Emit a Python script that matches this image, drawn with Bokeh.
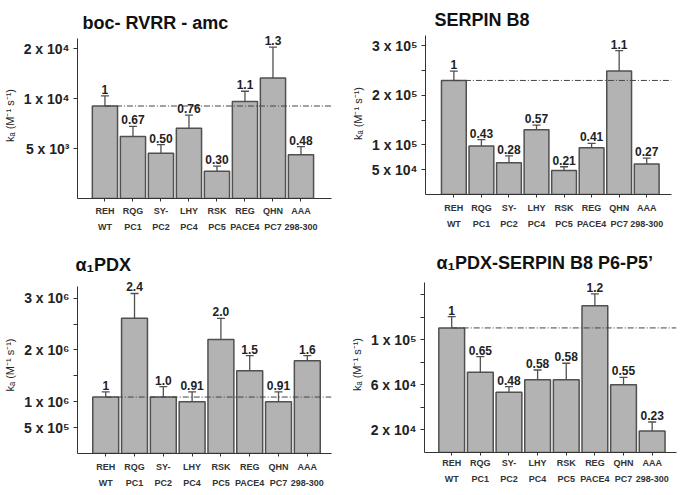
from bokeh.plotting import figure
from bokeh.layouts import column, row
from bokeh.models import (FixedTicker, LinearAxis, Title, ColumnDataSource, Range1d,
                          LabelSet, BasicTickFormatter)
from bokeh.core.properties import value
from bokeh.embed import file_html
from bokeh.resources import INLINE

# ---------------- data ----------------
mutants = ["REH", "RQG", "SY-", "LHY", "RSK", "REG", "QHN", "AAA"]
enzymes = ["WT", "PC1", "PC2", "PC4", "PC5", "PACE4", "PC7", "298-300"]

rvrr_ka = [9010, 5900, 4680, 6620, 3650, 9610, 13280, 4580]
rvrr_sd = [1350, 890, 590, 1320, 270, 1450, 7080, 550]
rvrr_ratio = ["1", "0.67", "0.50", "0.76", "0.30", "1.1", "1.3", "0.48"]
rvrr_ticks = [5000, 10000, 20000]
rvrr_labels = ["5 x 10\u00b3", "1 x 10\u2074", "2 x 10\u2074"]

b8_ka = [230000, 97800, 64000, 130700, 48500, 94300, 249000, 61400]
b8_sd = [19000, 12700, 14000, 9300, 7500, 8700, 41000, 12100]
b8_ratio = ["1", "0.43", "0.28", "0.57", "0.21", "0.41", "1.1", "0.27"]
b8_ticks = [50000, 100000, 150000, 200000, 250000, 300000]
b8_labels = ["5 x 10\u2074", "1 x 10\u2075", "", "2 x 10\u2075", "", "3 x 10\u2075"]

pdx_ka = [1090000, 2610000, 1090000, 1000000, 2200000, 1600000, 1000000, 1790000]
pdx_sd = [100000, 480000, 200000, 190000, 410000, 290000, 190000, 100000]
pdx_ratio = ["1", "2.4", "1.0", "0.91", "2.0", "1.5", "0.91", "1.6"]
pdx_ticks = [500000, 1000000, 1500000, 2000000, 2500000, 3000000]
pdx_labels = ["5 x 10\u2075", "1 x 10\u2076", "", "2 x 10\u2076", "", "3 x 10\u2076"]

chim_ka = [110700, 71300, 53500, 64700, 64700, 130500, 60300, 19100]
chim_sd = [10000, 13900, 5000, 8600, 14600, 10400, 6500, 8000]
chim_ratio = ["1", "0.65", "0.48", "0.58", "0.58", "1.2", "0.55", "0.23"]
chim_ticks = [20000, 40000, 60000, 80000, 100000, 120000, 140000]
chim_labels = ["2 x 10\u2074", "", "6 x 10\u2074", "", "1 x 10\u2075", "", ""]

FONT = "Liberation Sans"
BAR_FILL = "#b3b3b3"
BAR_LINE = "#505050"
AXIS_COL = "#333333"
TXT = "#222222"


def panel(title, ka, sd, ratio, ticks, labels, xr, yr, ybounds, log, fw, fh,
          mbl, mbr, mbt, mbb, title_off, title_standoff, xstand):
    kw = dict(y_axis_type="log") if log else {}
    p = figure(frame_width=fw, frame_height=fh, x_range=Range1d(*xr),
               y_range=Range1d(*yr), output_backend="svg", toolbar_location=None,
               min_border_left=mbl, min_border_right=mbr,
               min_border_top=mbt, min_border_bottom=mbb, **kw)
    p.outline_line_color = None
    p.xgrid.visible = False
    p.ygrid.visible = False

    p.title = Title(text=title, text_font=FONT, text_font_size="18px",
                    text_font_style="bold", text_color="#111111", align="left",
                    offset=title_off, standoff=title_standoff)

    n = len(ka)
    xs = list(range(n))
    tops = [k + s for k, s in zip(ka, sd)]
    src = ColumnDataSource(dict(x=xs, ka=ka, top=tops, ratio=ratio,
                                bottom=[yr[0]] * n))
    p.vbar(x="x", top="ka", bottom="bottom", width=0.9, source=src,
           fill_color=BAR_FILL, line_color=BAR_LINE, line_width=1.5)
    p.segment(x0="x", y0="ka", x1="x", y1="top", source=src,
              line_color=BAR_LINE, line_width=1.3)
    p.scatter(x="x", y="top", marker="dash", size=8, source=src,
              line_color=BAR_LINE, line_width=1.3)
    # dash-dot reference line at the WT level
    p.line(x=[0, xr[1]], y=[ka[0], ka[0]], line_color="#444444",
           line_width=1, line_dash="6 2 1 2")
    p.add_layout(LabelSet(x="x", y="top", text="ratio", source=src,
                          text_align="center", text_baseline="bottom", y_offset=2,
                          text_font=value(FONT), text_font_size=value("12px"),
                          text_font_style=value("bold"), text_color=TXT))

    # y axis
    ya = p.yaxis[0]
    ya.formatter = BasicTickFormatter()
    ya.bounds = ybounds
    ya.ticker = FixedTicker(ticks=ticks, minor_ticks=[])
    ya.major_label_overrides = {tk: lb for tk, lb in zip(ticks, labels)}
    ya.major_label_text_font = FONT
    ya.major_label_text_font_size = "14px"
    ya.major_label_text_font_style = "bold"
    ya.major_label_text_color = TXT
    ya.major_tick_out = 4
    ya.major_tick_in = 0
    ya.minor_tick_line_color = None
    ya.axis_line_color = AXIS_COL
    ya.major_tick_line_color = AXIS_COL
    ya.major_label_standoff = 4
    ya.axis_label = "k\u2090 (M\u207b\u00b9 s\u207b\u00b9)"
    ya.axis_label_text_font = FONT
    ya.axis_label_text_font_size = "11px"
    ya.axis_label_text_font_style = "normal"
    ya.axis_label_text_color = TXT
    ya.axis_label_standoff = 5

    # x axis: two lines of category labels
    xa = p.xaxis[0]
    xa.ticker = FixedTicker(ticks=xs, minor_ticks=[])
    xa.major_label_overrides = {i: m for i, m in zip(xs, mutants)}
    xa.axis_line_color = AXIS_COL
    xa.major_tick_line_color = AXIS_COL
    xa.major_tick_out = 3
    xa.major_tick_in = 0
    xa.minor_tick_line_color = None
    xa.major_label_standoff = xstand
    xa2 = LinearAxis(ticker=FixedTicker(ticks=xs, minor_ticks=[]),
                     major_label_overrides={i: e for i, e in zip(xs, enzymes)})
    xa2.axis_line_color = None
    xa2.major_tick_line_color = None
    xa2.minor_tick_line_color = None
    xa2.major_tick_out = 0
    xa2.major_label_standoff = 3
    for a in (xa, xa2):
        a.major_label_text_font = FONT
        a.major_label_text_font_size = "9px"
        a.major_label_text_font_style = "bold"
        a.major_label_text_color = "#333333"
    p.add_layout(xa2, "below")
    return p


p1 = panel("boc- RVRR - amc", rvrr_ka, rvrr_sd, rvrr_ratio, rvrr_ticks, rvrr_labels,
           (-0.98, 8.09), (2500, 24970), (2500, 23000), True,
           254, 166, 75, 3, 27, 49, 5, 0, 4)
p2 = panel("SERPIN B8", b8_ka, b8_sd, b8_ratio, b8_ticks, b8_labels,
           (-1.03, 7.9), (0, 326700), (0, 321000), False,
           246, 162, 91, 6, 32, 48, 9, 5, 5)
p3 = panel("\u03b1\u2081PDX", pdx_ka, pdx_sd, pdx_ratio, pdx_ticks, pdx_labels,
           (-0.98, 7.84), (0, 3418000), (0, 3220000), False,
           254, 177, 75, 3, 30, 35, -2, 3, 5)
p4 = panel("\u03b1\u2081PDX-SERPIN B8 P6-P5\u2019", chim_ka, chim_sd, chim_ratio,
           chim_ticks, chim_labels,
           (-0.95, 7.85), (0, 156400), (0, 151000), False,
           252, 176, 90, 1, 34, 32, 12, 7, 2)

layout = column(row(p1, p2), row(p3, p4))
open("out.html", "w").write(file_html(layout, INLINE))
